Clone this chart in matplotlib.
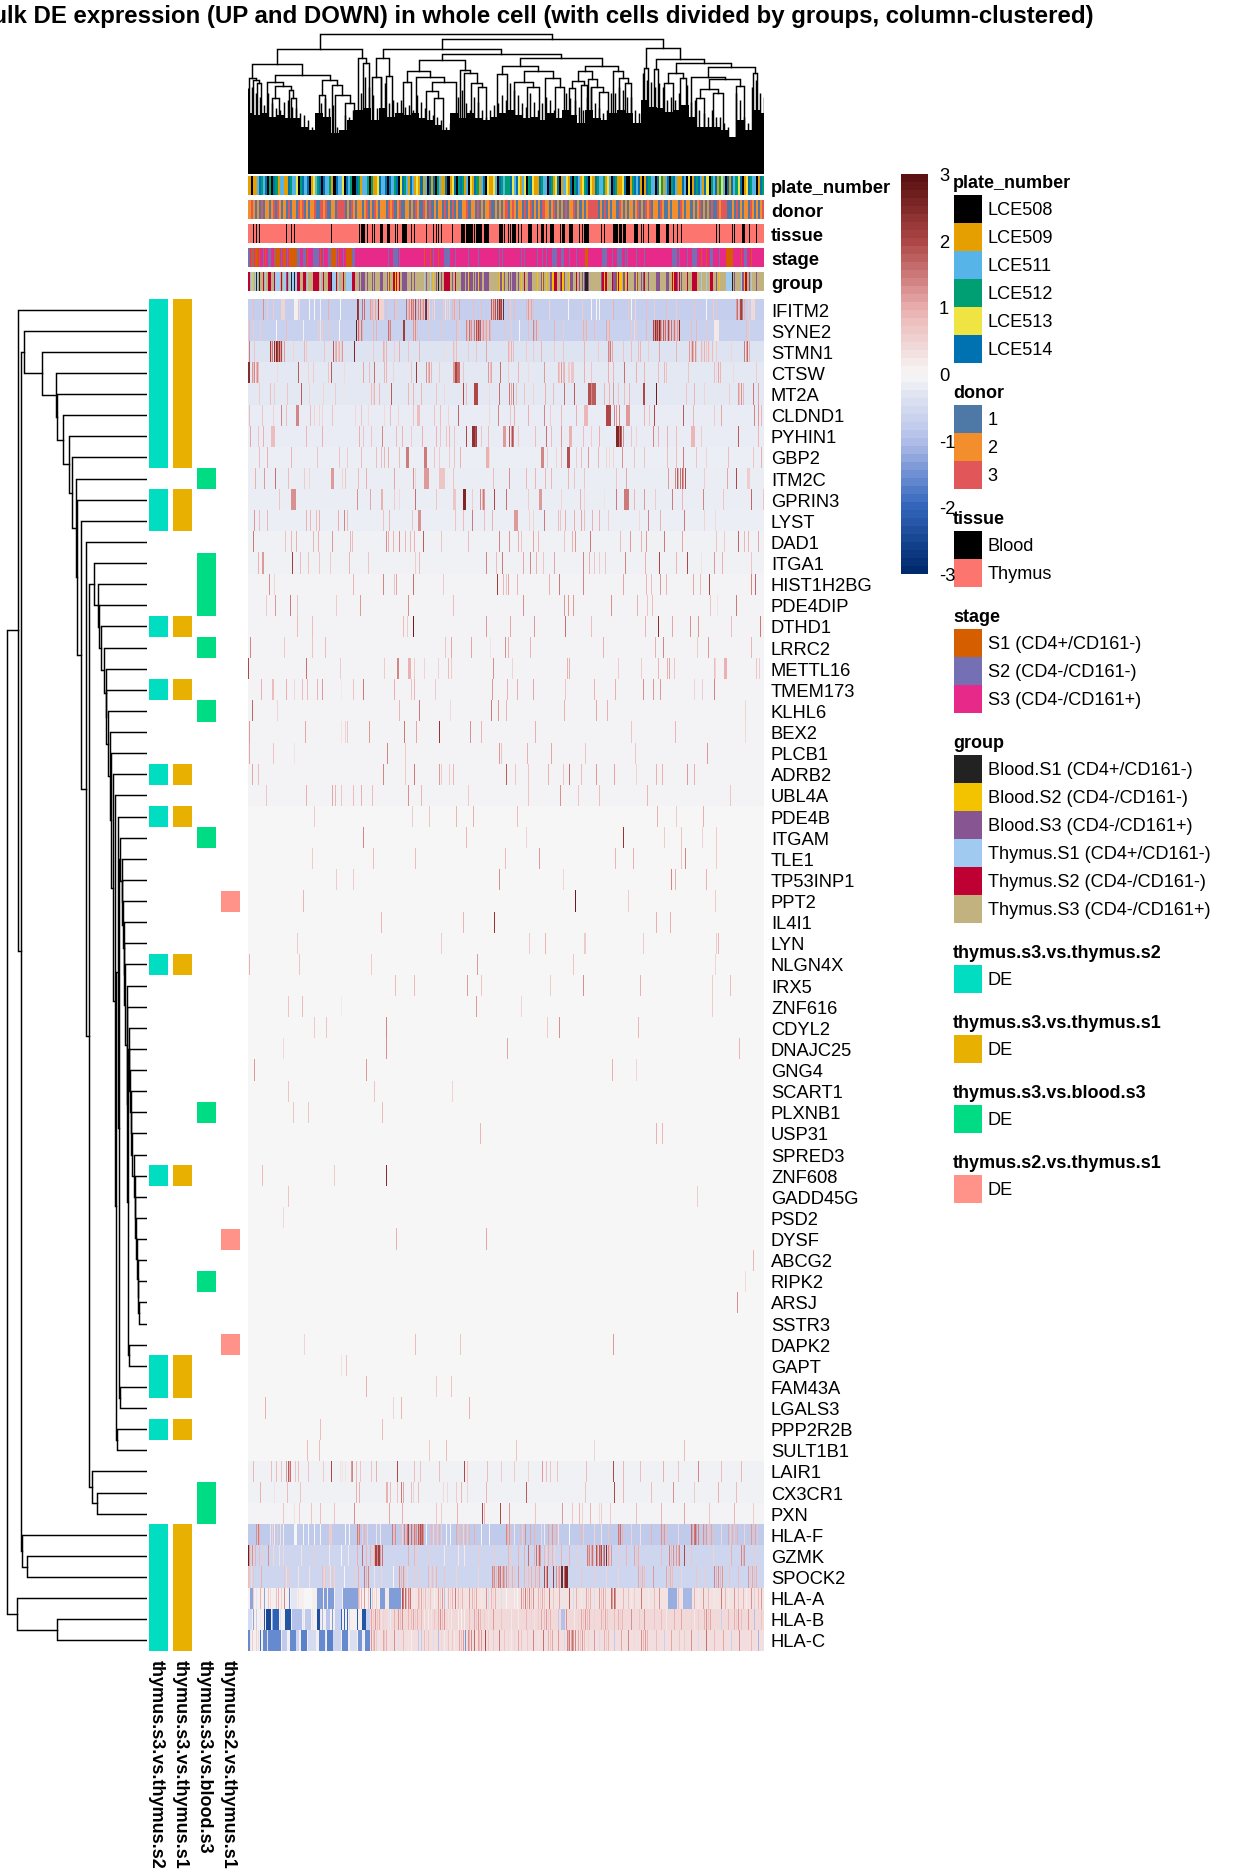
import matplotlib
matplotlib.use('Agg')
import matplotlib.pyplot as plt
from matplotlib.colors import LinearSegmentedColormap, ListedColormap
from matplotlib.patches import Rectangle
import numpy as np

plt.rcParams['font.family'] = ['Liberation Sans', 'DejaVu Sans']

W, H = 1248, 1872
n_cols = 516

title = 'Bulk DE expression (UP and DOWN) in whole cell (with cells divided by groups, column-clustered)'

genes = ['IFITM2', 'SYNE2', 'STMN1', 'CTSW', 'MT2A', 'CLDND1', 'PYHIN1', 'GBP2', 'ITM2C', 'GPRIN3', 'LYST', 'DAD1',
         'ITGA1', 'HIST1H2BG', 'PDE4DIP', 'DTHD1', 'LRRC2', 'METTL16', 'TMEM173', 'KLHL6', 'BEX2', 'PLCB1', 'ADRB2',
         'UBL4A', 'PDE4B', 'ITGAM', 'TLE1', 'TP53INP1', 'PPT2', 'IL4I1', 'LYN', 'NLGN4X', 'IRX5', 'ZNF616', 'CDYL2',
         'DNAJC25', 'GNG4', 'SCART1', 'PLXNB1', 'USP31', 'SPRED3', 'ZNF608', 'GADD45G', 'PSD2', 'DYSF', 'ABCG2',
         'RIPK2', 'ARSJ', 'SSTR3', 'DAPK2', 'GAPT', 'FAM43A', 'LGALS3', 'PPP2R2B', 'SULT1B1', 'LAIR1', 'CX3CR1', 'PXN',
         'HLA-F', 'GZMK', 'SPOCK2', 'HLA-A', 'HLA-B', 'HLA-C']

# base level of each row
row_base = [-.75, -.7, -.36, -.26, -.27, -.21, -.2, -.16, -.17, -.17, -.16, -.1, -.1, -.07, -.07, -.07, -.07, -.07,
            -.07, -.07, -.07, -.07, -.07, -.07] + [0] * 31 + [-.1, -.1, -.07, -.82, -.6, -.6, .1, .1, .1]

# "pos:value" per row, pos read on the 3x zoom of the heatmap (1548 wide), no value means 1
row_peaks = [
    '15:.8 45:1.3 58:.6 75:.6 100-110:.5 140-148:.1 155:.4 185:0 200:0 217:.1 240:1 277:0 328:2.4 332:2.2 342:1.6 350:1.6 368:1.2 371:.8 374:1 378:.6 381:1.1 384:.7 390:2.2 395-405:.5 415:.8 440:1 446:.7 475:1.6 480:.9 484:1.3 487:.6 490:1.6 493:1.1 496:1.5 502:2 506:1 510:1.4 514:.7 518:1.5 522:1 526:1.3 532:2.4 535:2.6 540:1 545:.5 552:.6 558:.4 585:.6 591:.3 597:.5 603:.4 612:.9 618:1.1 622:.7 635:1.1 675:.8 700:.8 730:1.8 733:.8 736:1.6 740:1.1 743:1.9 748:2.2 751:1.2 754:2.4 757:1.8 760:2.2 765:2.6 780:.8 787:.6 800:.8 835:.9 840:1.2 845:.7 850:1.1 855:.8 905:.5 960:0 1003:.6 1030:0 1045:0 1055:0 1095:1 1140:.7 1150:0 1162:.5 1195:.8 1220:.6 1255:.8 1285:.6 1340:.7 1375:0 1395:.6 1405:.7 1465:1.2 1469:1.6 1473:1 1478:2 1481:2.2 1484:1.6 1488:1 1500:.6 1510-1520:.4',
    '3:.9 15:.6 38:.6 85:0 115:.8 165:.1 210:.6 216:.3 222:.6 245:.7 275:0 325:2.8 332:1.6 335:.9 339:1.5 343:1 375:.9 385:1 420:1.6 424:1 428:1.4 465-468:2.2 495:1.2 499:.7 503:1.3 508:.8 545:.7 580:.7 625:.9 635:.6 655:1.4 659:.9 663:1.6 667:1 671:1.3 675:.8 679:1.5 685:1.9 688:1.2 691:2 694:1.4 697:1.8 703:.9 707:1.2 711:.8 715:1.1 719:.7 724:1.2 728:.9 770:.7 790:.6 815:0 840:.8 855:1.4 860:.9 865:1.2 870:.7 920:1 945:.6 1005:1 1010:.7 1015:1 1040:.8 1075:1.1 1080:.7 1085:1 1150:.6 1158:.4 1165:.6 1195:.9 1215:2 1218:1.2 1221:2.4 1224:1.6 1227:2.2 1230:1.3 1233:2.6 1236:1.8 1239:1.2 1245:1.8 1249:1 1253:1.6 1257:1.1 1261:2 1265:1.2 1269:1.6 1275:1 1279:1.5 1283:.9 1287:1.2 1291:.8 1295:2.4 1330:.8 1345:.9 1375:.7 1400-1410:.2 1495:.8 1505:.6',
    '3:1.5 20:.7 68:2.2 71:.8 74:1.5 78:2.4 81:1 84:2.6 87:2.2 90:1.4 93:2.4 96:1.2 99:2 102:.6 108:1.2 135:.5 170:.9 174:.6 230:.7 255:1.8 262:.9 266:1.1 270:.7 275:1 280:.6 284:1.2 320:2.6 375:.6 405:1 410:.7 414:.9 440:.6 455:1 480:.7 515:.9 590:.4 615:.8 620:.5 626:.8 660:.6 685:.7 715:1.1 780:1 785:.6 790:1 796:.8 835:.6 855:.6 880:.9 920:.6 945:.7 1010:.9 1050:.6 1080:1.4 1084:.9 1088:1.5 1092:1.1 1125:.7 1150:.8 1170:.8 1178:.9 1200:.6 1235:1.1 1285:.9 1325:1.2 1329:.8 1333:1.5 1337:1 1341:1.3 1345:.7 1360:.9 1364:.5 1370:1 1375:.7 1380:.9 1385:.4 1392:.8 1398:.3 1405:.6 1450:.5 1490:1.5 1494:1.1 1498:1.7 1503:1',
    '0-5:2.5 12:1.2 16:.7 20:1.4 24:.9 28:1.3 32:.8 88:.4 150:1.8 180:.5 195:.6 240:.7 250:1.8 290:.4 345:1.1 365:.8 380:1.6 408:.9 415:.9 435:.5 490:.7 505:2.2 535:1.3 540:.9 545:1.2 550:.9 575:.6 615-620:1.2 622-625:2 629-633:1.6 645:.7 720:1.2 726:.8 730:1.1 758:1.6 780:.6 812:.9 840:.4 890:1.2 930:1 935:.7 940:1.2 945:.8 950:1 960-965:.6 970-975:.7 1010:1 1030:.7 1080:1 1095:.9 1130:1.6 1165:1 1190:.9 1230:.8 1250:.9 1256:.7 1320:.7 1400:.8 1405:.4 1410:1.1 1416:.9 1455:.4 1525:.6',
    '35:.6 68:.8 80:.6 118:.7 160:1.8 185:.5 225:.5 262:.6 285:.3 370:.8 375:.5 380:.9 393:.9 430:1.8 480:.9 495:.9 520:.9 565:.7 590:.4 645:2 655:.8 680-688:2 725:.4 755:1.6 785:1.5 790:1.1 795:1.5 805:.7 830:.7 855:.5 893:1 915:.8 950:1.6 978:1.8 1020-1027:1.9 1030:1.4 1034-1042:1.8 1070:.9 1085:.9 1095:1.2 1110:.7 1130:.8 1145:.9 1185-1190:2 1225:2.8 1315:.7 1340:.9 1370:.5 1445:.6 1470:1.2 1475:.8 1480:1.3 1485:.9 1515:1.5 1530:1.1',
    '5:.8 42:.7 75:.5 100:1.4 115:.8 145-150:1.4 187:.8 200:.5 215:.5 222:.5 252:.7 322:.4 340:.7 360:.4 408:.4 428:.8 452:.5 495:.7 508-515:.8 560:.7 577:.8 600:.5 632:1.7 725:.4 750:1.4 787:.7 800:1 840:1 888:1.4 907:.6 940:.8 985:1 1010-1018:.9 1075-1088:2 1100:1.4 1105:1.2 1115:1.4 1135-1145:1.2 1190:.9 1205:.7 1220:2 1305:1.8 1335:.9 1400:.6 1420:1.1 1520:1.4 1530:1.2 1540:.9',
    '7:1.1 30:.7 47:1 70-80:.8 175:.9 223:1 335:1 347:.7 370:.7 403:1.4 445:.8 463:.9 490:.6 522:1 565:.9 577:.7 595:.7 605:.9 620:.7 655:2 672-678:2.4 681:1.9 684:2.2 700:.7 722:.8 765-772:1.2 785:1.8 789:1.2 792:1.9 796:1.5 810:.6 862:.8 895:1.6 910:.8 940:1.2 965-970:1 1005:.8 1030:.6 1055:1 1105-1110:2.6 1113:1.6 1116:2.4 1120:1.8 1125:1.3 1150:.7 1165:.5 1215:1.4 1232:.9 1258:1 1285:.8 1330-1338:.9 1360:.6 1470:1.8 1530:.9',
    '35:.8 58:1 130:.9 138:.2 208:.7 275:.7 298:.6 340:.8 385:.8 400:.8 408:.9 420:1 455:.8 475-482:1.5 530-535:1.5 560:.7 575:.6 603:.6 620:.7 638:1 715-720:1 725:.4 880-885:1.4 898:.6 925:.5 940:1 958-965:1.9 985:.6 1000:.8 1022:1.2 1052:.9 1075:.5 1085:.4 1095:.5 1122:1.3 1160:.7 1190:.7 1258:.8 1285:.8 1305:1.5 1345:.7 1375:.5 1440:.8 1515:.7 1540:1',
    '22:1 50:1.2 83:1.6 122:.8 170:.6 183:.5 250-257:1.2 283:.5 293:.7 330:.8 355:1 438:1.1 497:1.3 503:.5 530-540:1.2 575-590:.7 617:.7 737:.8 785:1.3 835:.9 862:.9 893:.9 910:.9 960:.9 980:.7 1010:.7 1105:.7 1135:1.1 1262:1.2 1282:1.4 1287:1.8 1292:1 1297:1.6 1303:1.8 1307:1.2 1312:1.9 1370:.6 1437:1.1 1465:2 1497-1503:.6',
    '95:.7 130-142:1.3 327:1.3 367:1.1 400-404:1 440:.6 455:.4 503:1.6 565:.7 615-622:.7 645-652:2.6 672:.6 698:1.4 702:.9 706:1.5 710:1.2 738:2 775:1.6 840:.6 875-880:1.2 940:.5 997:1 1010:.5 1068:.3 1105:1.5 1130-1140:1.5 1160:.9 1190:1.2 1222:.6 1272:1.5 1303:.9 1365:1.4 1425:.7 1510:1.7 1545:.7',
    '18:1.2 35:.8 58:.9 175:1 187:.9 205:.8 213:1 270:1 290:1.4 298:.8 405:.7 423:.9 492:.7 510-516:1.3 622:.7 645:.8 673:1.5 710:.8 733:1 800-808:1.2 845:.5 855:.5 888:1.5 930:.8 938:.7 952:1 980:1 1000:1.1 1010:.8 1033:1 1055:1 1080:.6 1175:.4 1200:1.4 1237:1 1308:1.5 1370:.5 1403:.4',
    '15:1.5 112:.7 130:.9 145:1 197:.9 210:1 253:1.2 308:.9 313:.8 416:1.3 422:1 435:.9 455:1.3 472:.9 487:.9 500:1 527:1.8 580:.7 660:.8 755:1.4 785:1.2 810:1 820:.7 855:1.1 870:.9 950:.7 972:1 982:1.2 1027:1.5 1118:.8 1147:1.2 1180:1 1195:1.2 1250:1.5 1302:1.1 1405:.7 1428:.6 1470:1.7 1490:.9 1500:.9 1530:1.1',
    '32:1 42-46:1.2 133:2.2 157:.8 182:.7 213:.7 248:.6 305:.9 362:.7 503:.6 515:.8 716:1.4 745:.8 763:1.5 825:1.1 848:1.4 865:1 885:.7 920:1.1 1007:1.4 1025:1 1040:.7 1055:.6 1072:.7 1132:1.4 1193:1 1233:2 1285:.9 1318:2 1360:.3 1400:1.2 1423:1 1510:.7',
    '65:1.3 80:.5 317:.9 405:1.4 438:.7 445:1.1 497:1.6 587:.6 748:2.2 767:.9 775:.7 782:1.1 808:.9 905:1 935:1.5 1007:1.4 1127:1.1 1195:.9 1210:.8 1238:1.2 1255:.9 1337:1.1 1358:.8 1385:2 1510:1.4 1523:1.7',
    '55:.6 82:1.2 127:1.5 148:.7 265:.6 338:1.2 482:1.3 617:.8 827:1.3 950:1.2 960:1.2 977:1.2 1090:1.3 1167:1 1198:.7 1212:.8 1387:.7 1408:.3 1465:1.5',
    '148:.8 193:.8 466:.8 478:.6 496:2.8 715:1.2 787:1.1 858:1.2 953:1.6 1030:.8 1192:.9 1232:2.4 1273:1.1 1327:1.3 1350:1.2 1450:.8 1537:1.5',
    '7:1.4 110:.6 193:.7 232:.8 592:.7 610:1.1 670:1.1 727:.3 773:1.3 780:1 848:.9 1066:1 1222:1 1246:1.4 1348:.6 1380:1.2 1510:.9',
    '1:2 175:1.6 278:.6 408:.6 447:1.4 450:1.4 480-488:1 500:.6 530:.5 572:.5 600:.8 610:.6 735:1.3 794:.5 958:1 963:1 1110:.6 1180:.6 1230:.9 1258:1 1263:1.1 1280:.7 1398:.8 1402:.5 1430-1436:1 1525:.7 1535:.6',
    '40:1 73-77:.8 115:1 140:.4 163:.8 178:.8 208:.9 223:1.2 280:.2 317:.7 347:1.5 438:1 490:.7 500:.9 562:.6 733:1.2 778:1 808:1 855:1.1 953:.7 1040:.9 1103:1 1187:1.3 1217:1.2 1237:1.2 1340:.5 1363:.6 1400:1.4',
    '13:1.7 88:.5 454:.9 515:1.5 607:.4 730:1.5 752:1.2 775:.9 950:1 1045:1.1 1078:1 1493:.5',
    '4:1.2 172:1.1 280:.3 293:.5 298:.7 364:1.2 470:1.5 505:1.1 575:2.3 667:1.3 700:.9 862:1 1150:.7 1283:.9 1492:.4',
    '4:1.1 76:.7 140:.3 418:1.4 472:.6 755:1.2 760:.7 838:1 910:1.1 1012:.7 1162:.7 1378:1.2',
    '13:1.1 30:.8 406:1.4 472:.6 500:1.5 575:1.2 580:.6 605:.6 616:.9 775:1.8 802:.7 841:.7 900:1 945:.7 965:1.6 1000:.8 1045:1.2 1098:1.1 1165:.5 1225:1 1243:1 1318:1.2 1338:1',
    '55:.7 175:1 253:1.1 262:.9 280:.7 316:.8 340:1 373:.8 481:1.3 520:.9 660:.6 841:.7 937:1.3 990:.7 1053:.8 1197:.9 1447:.7',
    '199:.6 493:.6 544:.7 625:.9 676:1 808:.8 1228:1 1285:.6 1366:1',
    '346:1.4 655:.9 835:.5 1126:2.3 1249:.6 1300:.7 1362:.5 1405:.6',
    '193:.6 376:.8 502:.8 772:.8 874:1.2 1102:.9 1156:1 1300:.7 1312:1.4 1405:.6',
    '265:.6 316:.6 754:1.3 946:.5 1270:1.4 1282:1 1375:1',
    '166:.9 982:2.8 1141:.6 1402:.6',
    '400:.9 646:.9 739:2.3 1225:1 1267:1',
    '148:.6 580:.6 844:.6 892:.9 1010-1013:.6 1186:.6 1405:.6 1411:.9',
    '4:1 154:.7 370:.6 688:1.2 976:.7 1402:.5',
    '442:.8 499:.8 658:1.2 700:.7 907:.6 1006:1.3 1177:1 1393:.6 1447:.8',
    '121:.7 163:.8 280:.2 685:1.2 820:.5 1393:.6',
    '199:.6 235:.7 415:1.4 898:.6 934:1.3 1171:.9',
    '106:.4 415:1.3 778:1.1 1474:.9',
    '19:1.2 355:1.2 1093:1 1165:.5',
    '121:.7 379:.7 613:.5',
    '136:.7 181:.7 403:.8',
    '697:.9 1225:1 1243:.9',
    '',
    '43:.8 259:.6 415:2.5',
    '121:.7 1348:.6',
    '106:.4',
    '445:1 715:1.1',
    '1516:.9',
    '1492:.4',
    '1468:1.3',
    '',
    '169:.5 502:.8 637:.7 1096:1.2',
    '279:.3 296:.7',
    '355:1 565:.6 611:.7',
    '52:1 436:.5 461:.9 664:1',
    '217:.8 403:.8',
    '178:.8 214:.8 544:.6 595:.8 805:.7 1040:.5 1310:.8',
    '16:.9 71:.8 86:.8 101:.7 116:1.2 120:1.8 124:1 127:1.6 141:.7 151:.8 181:.7 226:.6 251:2 276:.3 283:.3 292:.3 309:1.2 313:1.4 326:.8 338:.7 371:.7 384:1 448:2 498:.8 517:.7 574:.8 649:2 659:.7 719:.8 759:.6 799:.6 841:.5 883:1.2 896:.8 906:.7 928:.7 1014:.8 1096:2 1126:.9 1176:.8 1245:1 1290:.7 1350:1.4 1420:.8 1480:.9',
    '36:1 78:.3 117:.8 156:.7 326:1 334:1 414-417:1 426:.8 448:.7 461:1.5 465:1.1 491:.8 496:.5 511:.8 586:.4 598:.4 624:.6 641:.9 658:.5 716:.9 834:1.8 1012:.7 1098:2 1126:.9 1210:.8 1275:1.3 1340:.6 1410:1 1465:.8',
    '106:.7 139:.3 154:.6 191:.7 216:.8 258:.7 319:1.3 424:1.1 463:1 566:.7 581:.6 628:1 704:2 708:.9 758:2 784:1.2 861:.7 943:1.2 973:.7 994:.9 1003:.5 1026:.9 1054:.4 1059:.6 1086:.6 1166:.8 1240:.9 1310:1.1 1385:.7 1460:.9 1515:.6',
    '26:1.3 30:1.5 34:1 66:.3 74:.5 80:.2 88:.6 98:.3 106:.1 138-146:0 166:0 182:0 200:0 218:0 243-250:.6 292:0 304:0 327:1.5 331:1 335:1.4 342:.6 350:1 358:.5 384:.3 396:.2 434:1.5 438:.9 442:1.3 458:.8 463:.5 470:1.4 474:1 478:1.5 482:2 490:1.6 494:1 498:1.5 502:1.1 506:1.3 510:1.8 513:1.2 516:1.9 519:1.5 522:1.8 526:1.3 535:0 550:.9 556:.5 562:.9 568:.6 574:1 580:.6 595:0 608:0 625:1.1 630:.8 640:.9 646:.5 652:1 658:.6 664:.9 680:1 700:0 725:0 775:1.4 779:1 783:1.2 788:.8 800:.3 816:.9 822:.6 832:1.3 846:1.1 860:1 880:.4 888:.2 900:1.1 906:.7 912:1.2 918:.8 924:1 930:.3 965:0 1000:.9 1006:.6 1040:.5 1060:.3 1082:.7 1110:1.5 1114:1.1 1118:1.6 1122:1 1150:.5 1176:.3 1210:1 1240:1.3 1245:.9 1250:1.2 1256:.8 1290:.4 1330:1.6 1334:1.1 1338:1.5 1342:1.7 1346:1.2 1352:1.4 1365:1.3 1370:.9 1376:1.2 1382:.7 1390:1.1 1397:.8 1420:.4 1440:1.1 1446:.6 1452:1 1460:.7 1468:1 1490:.5 1510:1.2 1516:.8 1522:1.1 1528:.7',
    '0-3:2.8 4:1.2 8:.7 12:1.3 22:1 33:.8 45:.6 60:1.3 75:.4 95:.3 105:.4 160:.3 200:.6 245:.2 280:0 300:.2 328:1 342:1.6 355:.9 368:1 374:.6 379:1 382-386:2.1 389:1.4 392-395:2.2 398:1.2 402:1.6 480:1 500:.9 505:.6 540:.6 590:.2 630:.2 650:.2 695:.6 740:.6 780:.9 786:.6 810:.9 830:1 842:1.6 860:1 866:1.6 870:1 874:1.7 878:1.2 890:.9 896:.5 902:1 908:.6 914:.9 920:.5 940:1 965:.9 985:.6 1017:1.5 1021:1 1025:1.4 1029:1.1 1033:1.6 1037:.9 1045:1.9 1049:1.2 1053:1.8 1057:1.4 1061:2 1065:1.3 1069:1.7 1074:2.6 1080:1.3 1085:.8 1090:1.2 1110:.6 1135:.9 1160:1.1 1166:.7 1172:1 1240:.8 1265:1.4 1270:.9 1275:1.3 1280:.7 1285:1.2 1290:1 1295:1.4 1310:2 1330:.7 1395:.5 1450:1 1480:1.4 1485:1 1490:1.3 1520:.6',
    '0-3:.8 5:.7 10:.4 15:.7 40:1 110:.7 116:.4 122:.6 150:.3 185:.3 222:.8 228:.5 233:.7 240:.6 246:.3 252:.7 258:.5 290:0 320:.6 332:1 350:1.5 355:1 360:1.4 380:.3 400:.5 436:0 455:1.3 460:.9 465:1.2 470:.7 478:.5 500:.6 515:.6 540:.9 546:.5 552:.8 558:.5 564:.9 590:.7 625:.5 690:.5 732:1.4 736:1 740:1.3 744:.9 750:1.5 754:1.1 758:1.6 762:1 766:1.4 770:1.1 774:1.3 780:.9 786:.6 792:1 798:.7 812:1.2 830:.9 836:.6 842:.8 850:1 856:.6 862:1 868:.7 874:1.1 880:.6 890:2 894:1.2 898:2 915:2.2 925:1.3 930:.9 934:1.2 940-944:2.6 948:1.7 952-957:2.6 1000:.7 1040:.6 1075:.5 1110:.5 1170:1.1 1176:.7 1182:1 1190:.8 1215:1.2 1255:1.1 1260:.7 1266:1 1272:.8 1300:.5 1345:.7 1370:.6 1400:1.4 1405:1 1410:1.3 1416:.9 1422:1.2 1445:.7 1470:.8 1500:1.2 1506:.7 1512:1.1 1518:.8 1526:1',
    '6-12:-1.3 16:.6 24:-.3 36:1 48:-1.3 60:.7 66:.4 84:.8 92:1 100:.6 110:1.4 124:-1.6 130-145:-.3 150:.3 168-190:0 207-222:-1.4 228-234:-1.4 242-256:-1.4 261-281:-.6 285-328:-1.35 330:1 335:.5 340:.9 348:1.2 360:.7 367:-1.8 372:.7 378:.3 385:.6 391:.2 397-409:-1.4 411-420:.2 423-433:-1.4 437-446:-1.4 448-459:-1.4 460-1548:.3 464:1.9 467:1.5 472:1.7 476:1 480:1.4 484:.8 488:1.6 500:.2 510:1 515:.6 520:1.1 526:.5 533:.8 540:.4 546:.7 560:.1 570:1.1 576:.6 582:1.2 588:-.9 595:.2 600:.9 606:.5 612:1 622:1.5 630:.8 636:.4 642:.9 650:.3 665:1.2 672:1 678:.6 684:1.1 700:.2 715:1.3 722:-.5 730:.9 736:.5 742:1 760:-.4 775:0 800:.1 808:0 820:1.3 826:.9 832:1.5 838:.8 844:1.4 850:.7 856:1.3 870:1 876:.6 882:1.1 888:.7 905:1.5 915:.7 921:.3 933:1.1 945:-.3 965:1.8 975:-.5 985:1 1000:.2 1015:1.1 1020:.6 1026:1 1040:-.4 1055:1.2 1061:.7 1067:1.1 1073:.8 1090:1.7 1094:1.2 1098:1.8 1103:1.3 1125:.9 1140:.7 1150:.2 1158:.6 1180:1.5 1200:.2 1220:.8 1235:1.3 1262-1285:-1.2 1290:.8 1305-1330:-1.1 1340:1 1352:.2 1365:1.2 1380:.8 1400:.2 1420:1.5 1432:.9 1440:.2 1460:1.2 1470:.7 1485:.9 1495:.1 1510:1.3 1520:.6 1530:.9 1540:1.2',
    '0-10:-.5 16:-1.3 26:-.7 36:.2 48:-2.3 54-68:-2.5 72:-1.2 76-92:-2.1 96:-.4 112-128:-2.3 134-160:-1 166:-.3 172-186:-.8 192:-.3 207-213:-2.4 218:-.3 224:-1.1 235-245:-.9 252:-1.4 262-276:-.7 280:-2 288:-2 298:-2 305:-.5 328:-2.2 344-352:-2.3 356-366:-.7 368-1548:.4 370:1.1 376:.6 382:1.2 388:.7 394:1 400:.3 406:.5 420:-.3 428:-.2 440:1 450:1.2 456:.8 462:1.3 480:.9 490:.8 496:1.1 502:.6 508:1 514:.5 520:.9 530:.2 540:.1 550:.3 560:.7 570:1 576:1.3 582:.8 588:1.2 600:.3 610:.2 620:.4 630:.1 640:0 650:.1 665:.8 680:1.1 686:.7 692:1.2 698:.9 710:.6 720:.3 735:1.2 760:.7 770:.4 790:.2 800:.4 810:.2 835:.9 850:.5 860:.3 870:.6 880:1.1 890:.8 896:1.2 902:.6 908:1 930:-.8 940-950:-1 955:1.3 970:.4 980:.2 990:.5 1000:1.1 1006:.7 1012:1.2 1018:.8 1024:1.1 1040:.5 1060:1 1066:.6 1072:1.1 1078:.7 1100:.8 1106:.4 1112:1 1118:.6 1124:.9 1150:1.3 1175:.7 1190:1.2 1220:.7 1230:.4 1240:.8 1255:.2 1280:1 1300:1.1 1330:.5 1340:.2 1350:.6 1370:1 1376:1.3 1382:.7 1388:1.1 1420:-.7 1440:.9 1460:1 1466:.6 1472:1.2 1480:.8 1500:1.2 1520:-1 1540:.7',
    '0-3:-1.6 6:.3 12:.6 24:.5 30:-.4 36:-1.9 45-56:-1.6 58:.4 61-71:-1.6 73-96:-1.6 102-116:-.8 126-141:-1.6 144-150:-.6 159-174:-1.7 181-201:-.5 213-228:-1.6 232:-.3 237-253:-1.7 256-276:-.6 283-298:-1.6 306-326:-.4 330-340:-1.5 345:-.2 352-366:-1.6 368-1548:.35 370:1.2 375:.7 380:1.1 385:.6 395:-.3 405:1.1 410:.7 416:1 425:.3 440:1.3 450:-.4 465:.8 480:.3 490:.1 510:-.8 520:-.8 530:.8 536:.4 542:.7 555:-.4 570:-1 580:.5 588:.2 600:.7 606:.3 612:.6 620:.2 635:1.1 640:.8 646:1.2 652:-1.5 660:1.3 665:1 670:1.4 680:1.7 690:1.1 695:.8 700:1.2 712:2 720:.7 728:.3 736:.6 755:1.5 770:.7 780:.4 790:.2 800:.5 810:1.1 820:.7 830:.3 838:.6 855:1.4 870:.3 885:1.6 900:1 906:.7 912:1.1 930:1.2 948:-.5 957:1.4 961:1 965:1.5 969:1.1 973:1.6 977:1.2 981:1.4 990:1.1 996:.7 1002:1.2 1008:.8 1020:.5 1040:1.2 1055:-.5 1070:1 1076:.6 1082:.9 1100:-.8 1120:1.1 1140:1.4 1160:.4 1180:1.3 1186:.9 1192:1.2 1198:1 1225:.8 1250:-.7 1270:1.1 1295:.7 1302:.3 1308:.6 1330:1.3 1350:-.5 1375:1.6 1400:.8 1425:1.1 1450:-.7 1475:1.3 1510:.9 1530:-1.1',
]

# annotation rows of each DE contrast
de_names = ['thymus.s3.vs.thymus.s2', 'thymus.s3.vs.thymus.s1', 'thymus.s3.vs.blood.s3', 'thymus.s2.vs.thymus.s1']
de_colors = ['#00DDC0', '#E8B000', '#00DC84', '#FF938A']
de_s2 = [0, 1, 2, 3, 4, 5, 6, 7, 9, 10, 15, 18, 22, 24, 31, 41, 50, 51, 53, 58, 59, 60, 61, 62, 63]
de_s1 = de_s2
de_blood = [8, 12, 13, 14, 16, 19, 25, 38, 46, 56, 57]
de_s21 = [28, 44, 49]
de_rows = [de_s2, de_s1, de_blood, de_s21]

# column annotations, read at one letter per two cells
plate_seq = ('okoosbgsbkgkbgossoobgssykgbsbkoysgbkbssgokbssykbsgkkbgossgkgooybssbkbsgbkybgsobsoyoboskbobkgsoobkoybkgbgoskyobgosbkyooyskbgsg'
             'gbysbyosykgbyoobgsskbgoybkosyobkgbsoygbkyobgssgoyskbgooybkkogbsbokobgsskbygosbkgbsoobskykobgbsobykgsbogyskbobsgybkoybgsskobg')
donor_seq = ('orobobrbooborbrobobrboobrorboboorbbrorbboobrrrrbobrobooborbobrobooobrorborbboobobrobbrobrboboobrbobrbobboorboobrboboorbbobobor'
             'boroboobrborbobobrooborbobobrboorboboborrrrrbobrboboobrobobooborbobrorboobrobbobooobrobooboborbobobrbbrorrrbbobrboboobrobobor')
blood_runs = '16 25 34 115 130 139 250 334 339-348 358 373 379 396-402 417-423 442 448 462-474 490 499 535 556 565 571 580 613 640-645 649 655-660 664-670 673 679 685-700 708-720 754-759 763 769 780 786 792-802 811 819 841-847 850 868 879-886 895 907-913 916 937 943-949 964-974 994 1003 1009-1020 1060 1069 1096-1107 1114-1120 1126-1132 1159-1165 1168 1180 1186 1201 1225-1234 1255-1260 1276 1288 1300 1405 1414 1453 1459 1483-1489 1504 1525'
group_stage_runs = '0-3:r 9-12:l 15:r 21-27:l 33:l 45:r 51:l 60-66:r 78:r 81-93:l 100:r 105-111:l 118:r 123-135:l 138-144:l 148-155:r 165-172:r 177:l 195-210:r 216:l 225:r 240-246:r 250-262:l 265:r 270:l 285:r 295-309:l 312-318:r 420:r 435-447:r 455:r 530:l 548:l 555:r 571:l 588-603:r 622:r 660:r 690:r 755:r 763:r 819:r 829:r 869:r 884:r 896:r 914-924:r 939-946:r 964:r 984:r 1011-1017:l 1064-1074:r 1094:r 1109-1119:r 1132:r 1139:r 1164:r 1189:r 1274-1284:r 1294:r 1319:r 1334-1344:r 1359:l 1374:l 1386-1394:r 1414:r 1434-1454:l 1479:l 1489-1494:r 1509:l'

strip_names = ['plate_number', 'donor', 'tissue', 'stage', 'group']

plate_levels = ['LCE508', 'LCE509', 'LCE511', 'LCE512', 'LCE513', 'LCE514']
plate_colors = ['#000000', '#E69F00', '#56B4E9', '#009E73', '#F0E442', '#0072B2']
donor_levels = ['1', '2', '3']
donor_colors = ['#4E79A7', '#F28E2B', '#E15759']
tissue_levels = ['Blood', 'Thymus']
tissue_colors = ['#000000', '#FC766F']
stage_levels = ['S1 (CD4+/CD161-)', 'S2 (CD4-/CD161-)', 'S3 (CD4-/CD161+)']
stage_colors = ['#D55E00', '#7570B3', '#E7298A']
group_levels = ['Blood.S1 (CD4+/CD161-)', 'Blood.S2 (CD4-/CD161-)', 'Blood.S3 (CD4-/CD161+)',
                'Thymus.S1 (CD4+/CD161-)', 'Thymus.S2 (CD4-/CD161-)', 'Thymus.S3 (CD4-/CD161+)']
group_colors = ['#222222', '#F3C300', '#875692', '#A1CAF1', '#BE0032', '#C2B280']

cbar_ticks = [3, 2, 1, 0, -1, -2, -3]

# row dendrogram: merges read in figure pixels, an int is a leaf above, a tuple a branch below
row_spine = [(24, 1), (41.7, 2), (56, 3), (57.3, 4), (63, 5), (69, 6), (72, 7), (76, 8), (76.7, 9), (81, 10), (85.5, 11),
             (89, (92, 55, (97, 56, 57))), (94, 12), (97.7, 13), (98.7, 14), (101, 15), (103.7, 16), (106, 17),
             (106.3, 18), (108.3, 19), (110, 20), (110.7, 21), (113.3, 22), (115, 23), (115.7, (117.3, 53, 54)),
             (117.7, 24), (119.3, (120.3, 51, 52)), (120, 25), (121.7, 26), (122.3, 27), (123, 28), (124, 29),
             (124.3, 30), (125, 31), (126.7, 32), (127.3, 33), (128, (129.3, 49, 50)), (129, 34), (129.3, 35),
             (129.7, 36), (130.7, 37), (131.3, 38), (132.3, 39), (133.7, 40), (134.7, 41), (135.3, 42), (136, 43),
             (137.3, 44), (137.7, 45), (138, 46)]
row_spine_end = (138.7, 47, 48)
row_lower = (21.7, 58, (27, 59, 60))
row_bottom = (17.3, 61, (57, 62, 63))

# column dendrogram, (height on 3x zoom, left, right), a number is a leaf position on the same zoom
col_tree = (12,
            (58,
             (103,
              (143, 3, (150, 14, (158, 26, 40))),
              (136,
               (157, 57, (168, (205, 72, 92), (180, 122, (205, 128, 145)))),
               (150,
                (195, 212, 232),
                (165, 252, (195, 262, (218, 292, 318)))))),
             (84, 330, (100, 346, 362))),
            (28,
             (58,
              (84, (140, 372, 398), (137, 415, 432)),
              (72,
               (90,
                (123,
                 (155, 466, 490),
                 (140, 505, (155, (183, 533, (205, 558, 585)), 625))),
                (120, 635, (128, 648, (158, 670, (172, 690, 715))))),
               (84,
                (108,
                 (132, 748, 776),
                 (123,
                  (155, 799, (172, 836, 874)),
                  (145, 892, (172, 922, 949)))),
                (108,
                 (123,
                  (152, (175, 962, 982), (165, 1000, 1018)),
                  (148, 1019, (170, 1029, (185, 1054, 1079)))),
                 (123, 1094, (143, 1112, (160, 1132, 1149))))))),
             (55,
              (115, 1189, 1199),
              (88,
               (118, 1219, 1229),
               (98,
                (130, (160, 1249, 1274), (145, 1297, 1314)),
                (112,
                 (140, 1329, (147, (177, (205, 1344, 1369), (190, 1394, 1424)), (168, 1464, 1489))),
                 (130, 1514, 1526)))))))

# tops of the thin branches over the black part of the column dendrogram, on the same zoom
col_spikes = [175, 170, 190, 200, 225, 190, 220, 235, 240, 215, 210, 230, 235, 250, 255, 270, 290, 300, 220, 205, 235,
              225, 290, 300, 255, 260, 240, 265, 190, 140, 170, 195, 235, 140, 160, 220, 210, 215, 210, 230, 225, 240,
              195, 215, 235, 240, 255, 260, 270, 290, 280, 295, 200, 180, 220, 240, 200, 215, 240, 260, 240, 225, 220,
              195, 210, 160, 180, 195, 220, 230, 190, 215, 240, 220, 200, 210, 240, 235, 260, 190, 205, 210, 230, 240,
              200, 170, 220, 235, 250, 240, 190, 190, 170, 180, 200, 200, 240, 250, 130, 150, 155, 170, 160, 170, 210,
              200, 210, 190, 230, 165, 215, 210, 240, 250, 260, 240, 260, 260, 280, 290, 320, 190, 210, 260, 280, 170,
              150, 190, 200]
# top of the solid black part
col_mass = [250, 255, 250, 260, 255, 265, 265, 290, 300, 250, 260, 310, 300, 270, 240, 235, 270, 235, 260, 250, 255,
            250, 265, 270, 285, 300, 250, 265, 250, 265, 270, 260, 250, 240, 255, 265, 260, 270, 250, 265, 240, 255,
            280, 240, 265, 270, 250, 240, 250, 280, 210, 230, 235, 245, 240, 225, 260, 290, 290, 290, 300, 320, 270,
            300, 240, 250]

GENE_FS = 13.2
LW = 1.05


def ax_px(x0, y0, x1, y1):
    ax = fig.add_axes([x0 / W, 1 - y1 / H, (x1 - x0) / W, (y1 - y0) / H])
    ax.axis('off')
    return ax


def parse_runs(text, out, default=1.0):
    for tok in text.split():
        pos, _, val = tok.partition(':')
        a, _, b = pos.partition('-')
        a = int(a)
        b = int(b) if b else a
        if isinstance(default, float):
            val = float(val) if val else default
        else:
            val = val or default
        out[a // 3:b // 3 + 1] = val
    return out


def seq_codes(seq, letters):
    idx = np.arange(n_cols) * len(seq) // n_cols
    return np.array([letters.index(seq[i]) for i in idx])


def draw_row_tree(node):
    if isinstance(node, int):
        return 147, node + .5
    x, a, b = node
    xa, ya = draw_row_tree(a)
    xb, yb = draw_row_tree(b)
    ax_row.plot([xa, x, x, xb], [ya, ya, yb, yb], color='k', lw=LW, solid_joinstyle='miter')
    return x, (ya + yb) / 2


def draw_col_tree(node):
    if not isinstance(node, tuple):
        return node, 432
    y, a, b = node
    xa, ya = draw_col_tree(a)
    xb, yb = draw_col_tree(b)
    ax_col.plot([xa, xa, xb, xb], [ya, y, y, yb], color='k', lw=LW, solid_joinstyle='miter')
    return (xa + xb) / 2, y


fig = plt.figure(figsize=(W / 100, H / 100), dpi=100)

heat_cmap = LinearSegmentedColormap.from_list(
    'heat', [(0, '#002A6E'), (1 / 6, '#3568BE'), (2 / 6, '#B4C1EA'), (3 / 6, '#F7F7F7'),
             (4 / 6, '#EBB0B0'), (5 / 6, '#B04848'), (1, '#5C1212')])

# heatmap
matrix = np.array([parse_runs(p, np.full(n_cols, float(b))) for p, b in zip(row_peaks, row_base)])
ax_heat = ax_px(248, 299, 764, 1651)
ax_heat.imshow(matrix, cmap=heat_cmap, vmin=-3, vmax=3, aspect='auto', interpolation='nearest')

# column strips
blood = parse_runs(blood_runs, np.zeros(n_cols), 1.0)
stage_letter = parse_runs(group_stage_runs, np.full(n_cols, 't', dtype='<U1'), 't')
stage_code = np.array(['lrt'.index(c) for c in stage_letter])
group_code = stage_code + 3 * (blood == 0)
strips = [(seq_codes(plate_seq, 'kosgyb'), plate_colors), (seq_codes(donor_seq, 'bor'), donor_colors),
          ((blood == 0).astype(int), tissue_colors), (stage_code, stage_colors), (group_code, group_colors)]
for (codes, colors), y0 in zip(strips, [176, 200, 224, 248, 272]):
    ax = ax_px(248, y0, 764, y0 + 19)
    ax.imshow(codes[None, :], cmap=ListedColormap(colors), vmin=0, vmax=len(colors) - 1, aspect='auto',
              interpolation='nearest')

# row dendrogram
ax_row = ax_px(0, 299, 147, 1651)
ax_row.set_xlim(0, 147)
ax_row.set_ylim(64, 0)
node = row_spine_end
for x, sib in reversed(row_spine):
    node = (x, sib, node) if isinstance(sib, int) else (x, node, sib)
row_tree = (7, (18, 0, (20.7, node, row_lower)), row_bottom)
draw_row_tree(row_tree)

# column dendrogram
ax_col = ax_px(248, 30, 764, 174)
ax_col.set_xlim(0, 1548)
ax_col.set_ylim(432, 0)
ax_col.fill_between(np.linspace(0, 1548, len(col_mass)), col_mass, 432, step='mid', color='k', lw=0)
ax_col.vlines(np.linspace(0, 1548, len(col_spikes)), col_spikes, 432, color='k', lw=LW)
draw_col_tree(col_tree)

# everything placed in figure pixels
ov = fig.add_axes([0, 0, 1, 1], zorder=5)
ov.set_xlim(0, W)
ov.set_ylim(H, 0)
ov.axis('off')
ov.patch.set_alpha(0)

ov.text(1094, 16, title, ha='right', va='center', fontsize=17.3, fontweight='bold')

# DE annotation columns
for name, color, rows, x0 in zip(de_names, de_colors, de_rows, [149, 173, 197, 221]):
    for r in rows:
        ov.add_patch(Rectangle((x0, 299 + r * 1352 / 64), 19, 1352 / 64, fc=color, lw=0))
    ov.text(x0 + 7.5, 1660, name, rotation=-90, ha='center', va='top', fontsize=13, fontweight='bold')

for i, g in enumerate(genes):
    ov.text(771, 301.5 + (i + .5) * 1352 / 64, g, va='center', fontsize=GENE_FS)
for name, y in zip(strip_names, [188.5, 212.5, 236.5, 260.5, 284.5]):
    ov.text(771, y, name, va='center', fontsize=GENE_FS, fontweight='bold')

# colour bar
ax_cb = ax_px(901, 174, 928, 574)
ax_cb.imshow(np.linspace(3, -3, 50)[:, None], cmap=heat_cmap, vmin=-3, vmax=3, aspect='auto', interpolation='nearest')
for i, t in enumerate(cbar_ticks):
    ov.text(939, 176.5 + i * 400 / 6, str(t), va='center', fontsize=GENE_FS)

# legends
legends = [('plate_number', plate_levels, plate_colors), ('donor', donor_levels, donor_colors),
           ('tissue', tissue_levels, tissue_colors), ('stage', stage_levels, stage_colors),
           ('group', group_levels, group_colors)] + [(n, ['DE'], [c]) for n, c in zip(de_names, de_colors)]
y = 182
for name, levels, colors in legends:
    ov.text(953, y + 1.5, name, va='center', fontsize=13, fontweight='bold')
    y += 13
    for lev, c in zip(levels, colors):
        ov.add_patch(Rectangle((954, y), 28, 28, fc=c, lw=0))
        ov.text(987.5, y + 15.5, lev, va='center', fontsize=13.05)
        y += 28
    y += 29

fig.savefig('out.png', dpi=100)
